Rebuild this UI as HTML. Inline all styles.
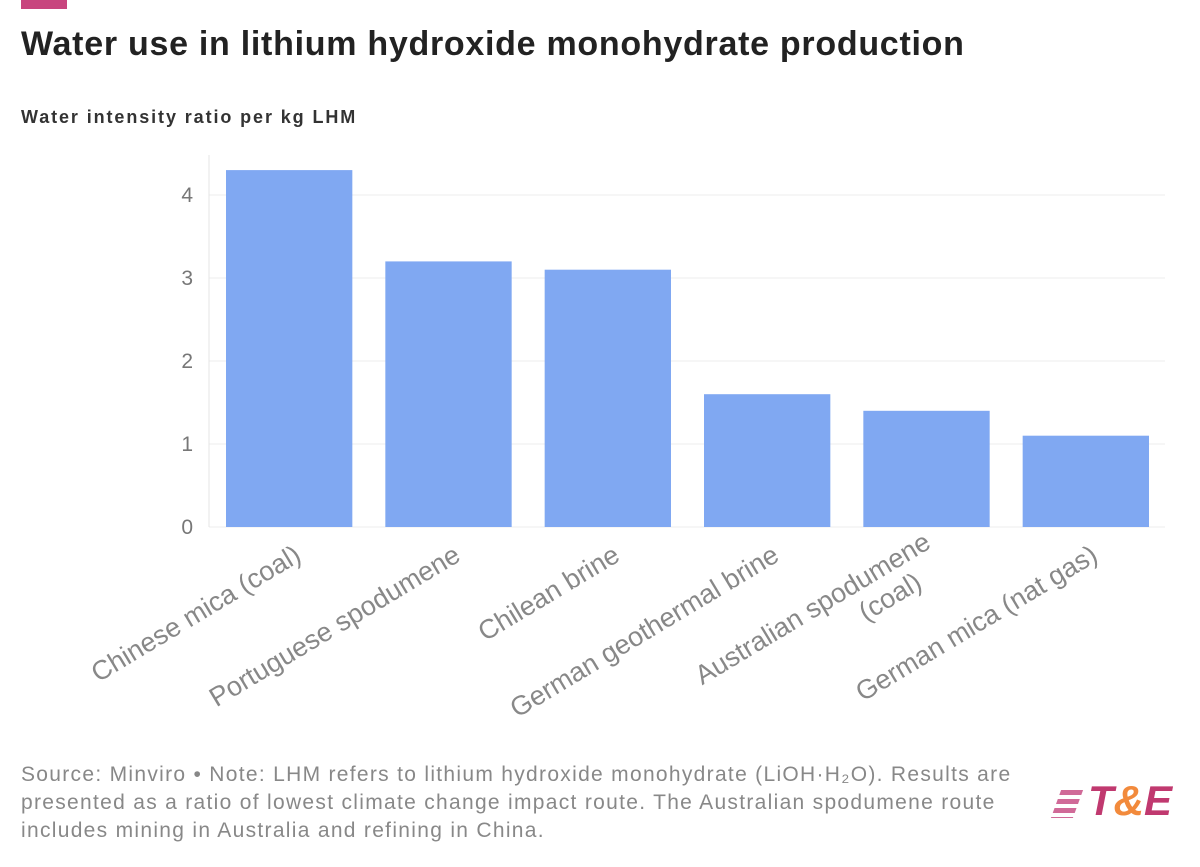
<!DOCTYPE html>
<html><head><meta charset="utf-8"><style>
body{margin:0;background:#fff;width:1200px;height:867px;overflow:hidden;font-family:"Liberation Sans",sans-serif;position:relative}
.t{position:absolute;left:21px;top:25px;font-size:34px;font-weight:bold;color:#222;letter-spacing:0.72px;white-space:nowrap}
.s{position:absolute;left:21px;top:107px;font-size:18px;font-weight:bold;color:#333;letter-spacing:1.9px;white-space:nowrap}
.n{position:absolute;left:21px;top:761px;font-size:21px;line-height:28px;color:#888;letter-spacing:1.3px;white-space:nowrap}
</style></head><body>
<div style="position:absolute;left:21px;top:0;width:46px;height:9px;background:#c8457e"></div>
<div class="t">Water use in lithium hydroxide monohydrate production</div>
<div class="s">Water intensity ratio per kg LHM</div>
<svg id="c" width="1200" height="740" style="position:absolute;left:0;top:0"></svg>
<div class="n">Source: Minviro • Note: LHM refers to lithium hydroxide monohydrate (LiOH·H₂O). Results are<br>presented as a ratio of lowest climate change impact route. The Australian spodumene route<br>includes mining in Australia and refining in China.</div>
<div style="position:absolute;left:1056px;top:777px;font-size:42px;font-weight:bold;font-style:italic;color:#c0396f;white-space:nowrap">
<span style="display:inline-block;width:22px;height:28px;vertical-align:-3px;background:repeating-linear-gradient(#d06a98 0 5px,transparent 5px 9px);margin-right:10px;transform:skewX(-20deg)"></span>T<span style="color:#f28a3c">&amp;</span>E</div>
<script>
const categories=["Chinese mica (coal)","Portuguese spodumene","Chilean brine","German geothermal brine","Australian spodumene|(coal)","German mica (nat gas)"];
const values=[4.3,3.2,3.1,1.6,1.4,1.1];
const ticks=[0,1,2,3,4];
const svg=document.getElementById('c');const NS='http://www.w3.org/2000/svg';
const x0=209,x1=1165,y0=527,k=83;
const y=v=>y0-v*k;const bw=(x1-x0)/categories.length;
function mk(t,a){const e=document.createElementNS(NS,t);for(const q in a)e.setAttribute(q,a[q]);svg.appendChild(e);return e;}
ticks.forEach(t=>{const l=mk('line',{x1:x0,x2:x1,y1:y(t),y2:y(t),stroke:'#ececec'});


const tx=mk('text',{x:193,y:y(t)+7,'text-anchor':'end','font-size':21,fill:'#777','font-family':'Liberation Sans'});tx.textContent=t;

});
const ax=mk('line',{x1:x0,x2:x0,y1:155,y2:y0,stroke:'#e4e4e4'});


categories.forEach((c,i)=>{const bx=x0+i*bw+17;const r=mk('rect',{x:bx,y:y(values[i]),width:bw-33,height:values[i]*k,fill:'#80a8f2'});


const cx=x0+i*bw+bw/2+10;const parts=c.split('|');
const tx=mk('text',{transform:`translate(${cx},553) rotate(-31)`,'text-anchor':'end','font-size':27,fill:'#888','font-family':'Liberation Sans'});


parts.forEach((p,j)=>{const s=document.createElementNS(NS,'tspan');s.setAttribute('x',0);s.setAttribute('y',j*30-(parts.length-1)*15+8);s.setAttribute('text-anchor',j>0?'middle':'end');if(j>0)s.setAttribute('dx',-62);s.textContent=p;tx.appendChild(s);});});
</script>
</body></html>
